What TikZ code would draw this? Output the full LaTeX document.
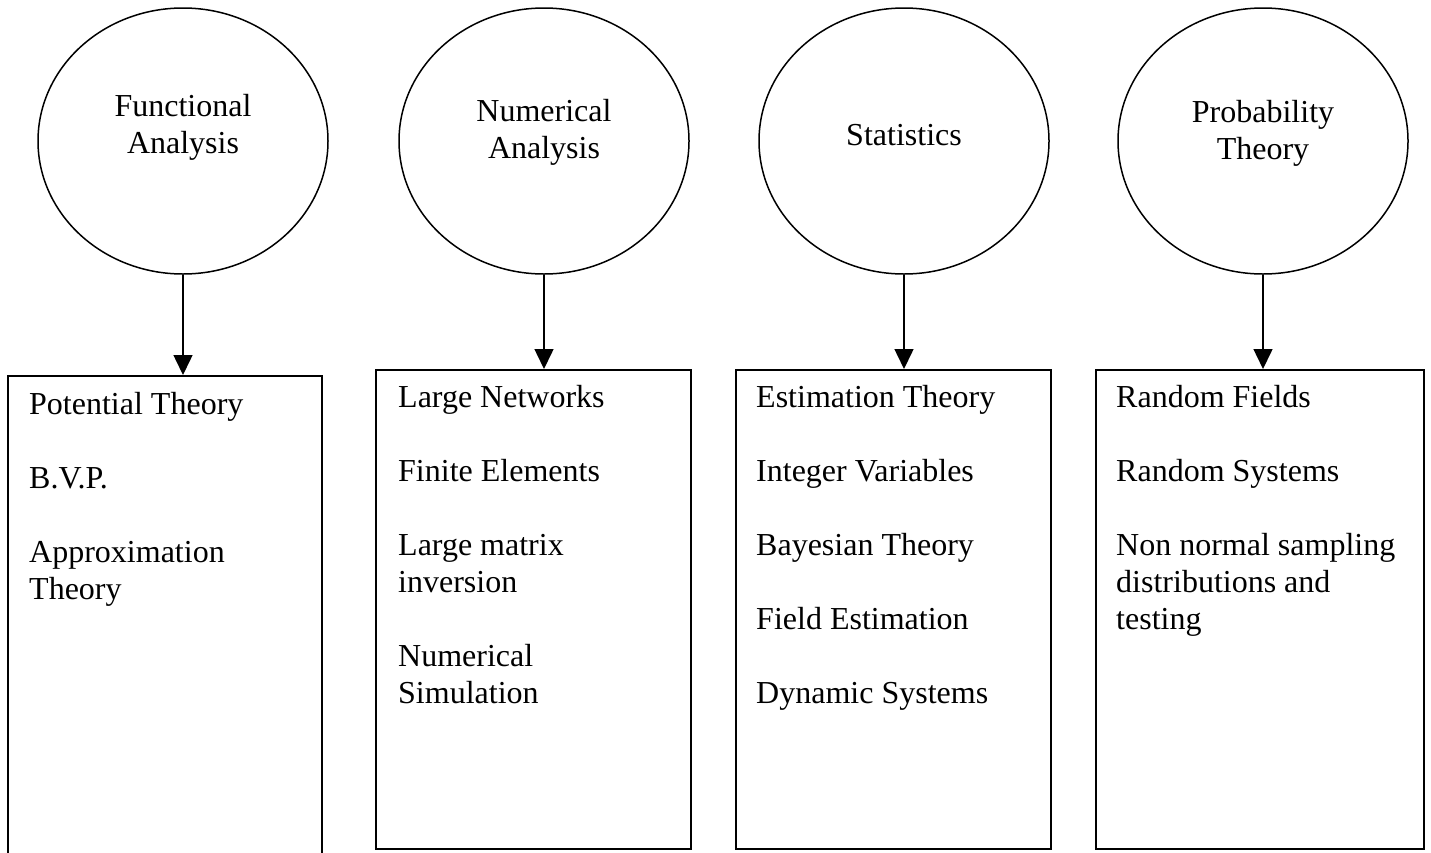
\documentclass[tikz,border=0pt]{standalone}
\usepackage{fontspec}
\setmainfont{Liberation Serif}
\usetikzlibrary{arrows.meta,shapes}

\tikzset{
  topic/.style={draw, ellipse, line width=1.5pt, minimum width=290, minimum height=266, inner sep=0},
  topictext/.style={align=center, anchor=base, font=\fontsize{32}{37}\selectfont},
  itembox/.style={draw, rectangle, line width=2pt, inner sep=0, anchor=north west},
  items/.style={align=left, anchor=base west, inner sep=0, font=\fontsize{32}{37}\selectfont},
  arr/.style={line width=1.5pt, -{Triangle[length=20pt,width=19pt]}}
}

\begin{document}
\begin{tikzpicture}[x=1pt,y=-1pt]
      \useasboundingbox (0,0) rectangle (1431,852);
      \clip (0,0) rectangle (1431,852);

      % topics (text placed at the baseline of its last line)
      \node[topic] (fa) at (183,141) {};
      \node[topic] (na) at (544,141) {};
      \node[topic] (st) at (904,141) {};
      \node[topic] (pt) at (1263,141) {};
      \node[topictext] (fa-t) at (183,153) {Functional\\Analysis};
      \node[topictext] (na-t) at (544,158) {Numerical\\Analysis};
      \node[topictext] (st-t) at (904,145) {Statistics};
      \node[topictext] (pt-t) at (1263,159) {Probability\\Theory};

      % boxes
      \node[itembox, minimum width=314, minimum height=530] (fa-box) at (7,375) {};
      \node[itembox, minimum width=315, minimum height=479] (na-box) at (375,369) {};
      \node[itembox, minimum width=315, minimum height=479] (st-box) at (735,369) {};
      \node[itembox, minimum width=328, minimum height=479] (pt-box) at (1095,369) {};

      \node[items] (fa-list) at (29,599) {Potential Theory\\[37pt]B.V.P.\\[37pt]Approximation\\Theory};
      \node[items] (na-list) at (398,703) {Large Networks\\[37pt]Finite Elements\\[37pt]Large matrix\\inversion\\[37pt]Numerical\\Simulation};
      \node[items] (st-list) at (756,703) {Estimation Theory\\[37pt]Integer Variables\\[37pt]Bayesian Theory\\[37pt]Field Estimation\\[37pt]Dynamic Systems};
      \node[items] (pt-list) at (1116,629) {Random Fields\\[37pt]Random Systems\\[37pt]Non normal sampling\\distributions and\\testing};

      % arrows
      \draw[arr] (fa.south) -- (fa.south |- fa-box.north);
      \draw[arr] (na.south) -- (na.south |- na-box.north);
      \draw[arr] (st.south) -- (st.south |- st-box.north);
      \draw[arr] (pt.south) -- (pt.south |- pt-box.north);
\end{tikzpicture}
\end{document}
